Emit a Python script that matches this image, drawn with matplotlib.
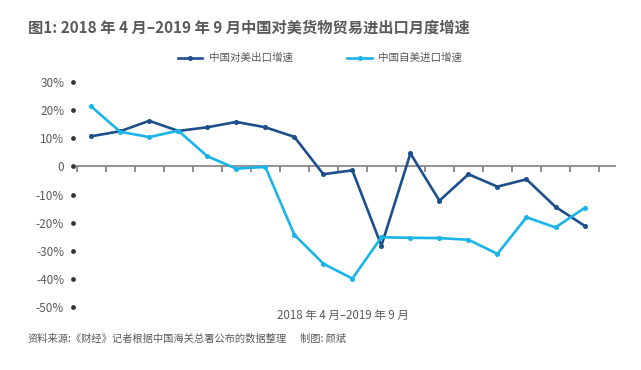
import matplotlib
matplotlib.use("Agg")
import matplotlib.pyplot as plt
import numpy as np

plt.rcParams['font.family'] = ['Noto Sans CJK SC', 'DejaVu Sans']

# 2018-04 .. 2019-09
months = ['2018-04', '2018-05', '2018-06', '2018-07', '2018-08', '2018-09',
          '2018-10', '2018-11', '2018-12', '2019-01', '2019-02', '2019-03',
          '2019-04', '2019-05', '2019-06', '2019-07', '2019-08', '2019-09']
export_growth = [10.7, 12.5, 16.2, 12.6, 13.9, 15.8, 13.9, 10.5, -2.8, -1.4,
                 -28.2, 4.6, -12.2, -2.8, -7.2, -4.6, -14.4, -21.1]
import_growth = [21.3, 12.3, 10.4, 12.7, 3.6, -0.8, -0.2, -24.3, -34.6, -39.9,
                 -25.2, -25.4, -25.5, -26.1, -31.1, -18.1, -21.7, -14.8]
yticks = [30, 20, 10, 0, -10, -20, -30, -40, -50]
ytick_labels = ['30%', '20%', '10%', '0', '-10%', '-20%', '-30%', '-40%', '-50%']

dark = '#1d4f8c'
light = '#18b4ea'
grey = '#5a5a5a'

fig = plt.figure(figsize=(6.41, 3.70), dpi=100)
ax = fig.add_axes([76.7 / 641, 63 / 370, 538.3 / 641, 225 / 370])

x = np.arange(len(months))
ax.plot(x, export_growth, color=dark, lw=1.9, marker='o', ms=2.6,
        label='中国对美出口增速', clip_on=False, zorder=3)
ax.plot(x, import_growth, color=light, lw=1.9, marker='o', ms=2.6,
        label='中国自美进口增速', clip_on=False, zorder=4)

ax.set_xlim(-0.5, len(months) + 0.05)
ax.set_ylim(-50, 30)

# x axis: line at zero with ticks between categories
for s in ['top', 'right', 'left']:
    ax.spines[s].set_visible(False)
ax.spines['bottom'].set_position(('data', 0))
ax.spines['bottom'].set_color('#808080')
ax.spines['bottom'].set_linewidth(1.2)
ax.set_xticks(np.arange(len(months) + 1) - 0.5)
ax.set_xticklabels([])
ax.tick_params(axis='x', direction='out', length=4, width=1.1, colors='#707070')

# y axis: dots instead of tick lines
ax.spines['left'].set_position(('outward', 3))
ax.set_yticks(yticks)
ax.set_yticklabels(ytick_labels)
ax.tick_params(axis='y', length=0, pad=6, labelsize=8.5, labelcolor=grey)
for t in ax.yaxis.get_major_ticks():
    t.tick1line.set_marker('o')
    t.tick1line.set_markersize(2.6)
    t.tick1line.set_markerfacecolor('#333333')
    t.tick1line.set_markeredgecolor('#333333')

fig.text(28 / 641, 1 - 28 / 370, '图1: 2018 年 4 月–2019 年 9 月中国对美货物贸易进出口月度增速',
         fontsize=11, fontweight='bold', color=grey, va='center', ha='left')

fig.legend(loc='center', bbox_to_anchor=(320 / 641, 1 - 58 / 370), ncol=2,
           frameon=False, fontsize=7.6, handlelength=2.3, handletextpad=0.6,
           columnspacing=5.2, labelcolor=grey)

fig.text(343 / 641, 1 - 315 / 370, '2018 年 4 月–2019 年 9 月', fontsize=8.3,
         color=grey, ha='center', va='center')

fig.text(27 / 641, 1 - 339 / 370, '资料来源:《财经》记者根据中国海关总署公布的数据整理',
         fontsize=7.4, color=grey, ha='left', va='center')
fig.text(300 / 641, 1 - 339 / 370, '制图: 颜斌', fontsize=7.4, color=grey,
         ha='left', va='center')

fig.savefig('out.png', dpi=100)
